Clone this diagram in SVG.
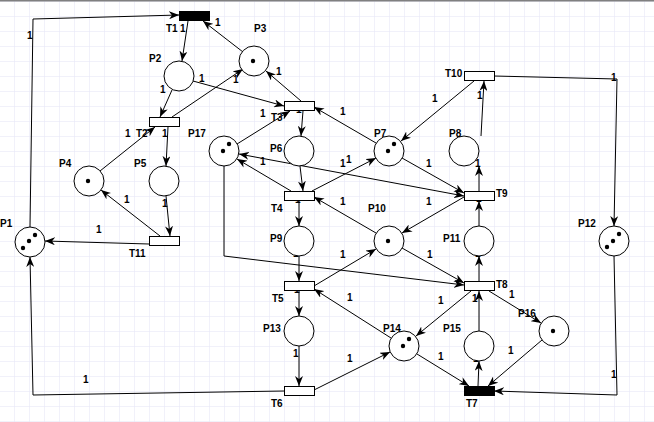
<svg xmlns="http://www.w3.org/2000/svg" width="654" height="422" viewBox="0 0 654 422">
<defs>
<pattern id="grid" x="14" y="1" width="15" height="15" patternUnits="userSpaceOnUse">
<path d="M0,0 H15 M0,0 V15" fill="none" stroke="#E4E4F6" stroke-width="1"/>
</pattern>
<marker id="a" viewBox="0 0 10 8" refX="10" refY="4" markerWidth="10" markerHeight="8" orient="auto" markerUnits="userSpaceOnUse">
<path d="M0,0 L10,4 L0,8 L3,4 Z" fill="#000"/>
</marker>
<marker id="as" viewBox="0 0 10 8" refX="10" refY="4" markerWidth="10" markerHeight="8" orient="auto-start-reverse" markerUnits="userSpaceOnUse">
<path d="M0,0 L10,4 L0,8 L3,4 Z" fill="#000"/>
</marker>
<style>
.c path{fill:none;stroke:#000;stroke-width:1;marker-end:url(#a)}
.c path.both{marker-start:url(#as)}
text{font-family:"Liberation Sans",Arial,sans-serif;font-size:10px;font-weight:bold;fill:#000}
.p{fill:#fff;stroke:#000;stroke-width:1}
.t{fill:#fff;stroke:#000;stroke-width:1}
.tb{fill:#000;stroke:#000;stroke-width:1}
.k{fill:#000}
</style>
</defs>
<rect x="0" y="0" width="654" height="422" fill="#fff"/>
<rect x="0" y="0" width="654" height="422" fill="url(#grid)"/>
<rect x="0" y="0" width="654" height="1.5" fill="#808080"/>
<g id="connectors" class="c">
<path d="M30,227 L33,19 L179,15"/>
<path d="M188,21 L182,61"/>
<path d="M243,52 L203,21"/>
<path d="M172,90 L160,117"/>
<path d="M193,81 L284,106"/>
<path d="M172,117 L243,69"/>
<path d="M301,101 L266,71"/>
<path d="M303,111 L301,136"/>
<path d="M376,143 L314,107"/>
<path d="M237,144 L290,111"/>
<path d="M168,127 L166,166"/>
<path d="M100,171 L155,127"/>
<path d="M166,196 L170,236"/>
<path d="M160,236 L101,190"/>
<path d="M149,244 L45,241"/>
<path d="M284,391 L33,395 L30,257"/>
<path d="M291,191 L237,159"/>
<path class="both" d="M239,154 L464,196"/>
<path d="M312,191 L376,158"/>
<path d="M376,233 L314,197"/>
<path d="M300,166 L303,191"/>
<path d="M299,201 L299,226"/>
<path d="M402,158 L464,193"/>
<path d="M464,197 L402,233"/>
<path d="M479,226 L479,201"/>
<path d="M479,191 L479,166"/>
<path d="M481,136 L484,81"/>
<path d="M474,81 L401,141"/>
<path d="M494,76 L617,79 L614,226"/>
<path d="M614,256 L617,395 L494,391"/>
<path d="M299,256 L299,281"/>
<path d="M299,291 L299,316"/>
<path d="M299,346 L299,386"/>
<path d="M314,286 L376,249"/>
<path d="M391,338 L314,289"/>
<path d="M314,390 L390,352"/>
<path d="M224,166 L224,256 L464,285"/>
<path d="M402,248 L464,283"/>
<path d="M479,281 L479,256"/>
<path d="M479,331 L479,291"/>
<path d="M471,291 L416,336"/>
<path d="M489,291 L541,323"/>
<path d="M417,354 L469,386"/>
<path d="M478,386 L479,361"/>
<path d="M542,340 L488,386"/>
<g id="arc-labels">
<text x="27" y="39">1</text>
<text x="180" y="32">1</text>
<text x="215" y="26">1</text>
<text x="199" y="82">1</text>
<text x="233" y="83">1</text>
<text x="276" y="75">1</text>
<text x="160" y="93">1</text>
<text x="260" y="117">1</text>
<text x="125" y="137">1</text>
<text x="162" y="137">1</text>
<text x="124" y="203">1</text>
<text x="162" y="207">1</text>
<text x="96" y="233">1</text>
<text x="83" y="383">1</text>
<text x="260" y="165">1</text>
<text x="340" y="167">1</text>
<text x="346" y="163">1</text>
<text x="340" y="115">1</text>
<text x="432" y="102">1</text>
<text x="477" y="99">1</text>
<text x="611" y="81">1</text>
<text x="426" y="167">1</text>
<text x="340" y="205">1</text>
<text x="426" y="205">1</text>
<text x="340" y="258">1</text>
<text x="427" y="258">1</text>
<text x="293" y="357">1</text>
<text x="347" y="301">1</text>
<text x="438" y="304">1</text>
<text x="509" y="298">1</text>
<text x="438" y="360">1</text>
<text x="347" y="362">1</text>
<text x="508" y="354">1</text>
<text x="611" y="378">1</text>
<text x="472" y="302">1</text>
<text x="296" y="113">1</text>
<text x="295" y="203">1</text>
<text x="294" y="293">1</text>
<text x="293" y="257">1</text>
<text x="475" y="167">1</text>
<text x="476" y="202">1</text>
<text x="475" y="257">1</text>
<text x="473" y="362">1</text>
</g>
</g>
<g id="P1"><circle class="p" cx="30" cy="242" r="15"/><circle class="k" cx="35" cy="235" r="2.2"/><circle class="k" cx="29" cy="241" r="2.2"/><circle class="k" cx="23" cy="248" r="2.2"/><text x="0" y="227">P1</text></g>
<g id="P2"><circle class="p" cx="179" cy="76" r="15"/><text x="149" y="62">P2</text></g>
<g id="P3"><circle class="p" cx="254" cy="61" r="15"/><circle class="k" cx="253" cy="61" r="2.2"/><text x="254" y="32">P3</text></g>
<g id="P4"><circle class="p" cx="89" cy="181" r="15"/><circle class="k" cx="88" cy="181" r="2.2"/><text x="59" y="167">P4</text></g>
<g id="P5"><circle class="p" cx="164" cy="181" r="15"/><text x="134" y="167">P5</text></g>
<g id="P17"><circle class="p" cx="224" cy="151" r="15"/><circle class="k" cx="229" cy="144" r="2.2"/><circle class="k" cx="223" cy="151" r="2.2"/><text x="188" y="137">P17</text></g>
<g id="P6"><circle class="p" cx="299" cy="151" r="15"/><text x="270" y="152">P6</text></g>
<g id="P9"><circle class="p" cx="299" cy="241" r="15"/><text x="270" y="242">P9</text></g>
<g id="P13"><circle class="p" cx="299" cy="331" r="15"/><text x="263" y="332">P13</text></g>
<g id="P7"><circle class="p" cx="389" cy="151" r="15"/><circle class="k" cx="394" cy="144" r="2.2"/><circle class="k" cx="388" cy="151" r="2.2"/><text x="374" y="137">P7</text></g>
<g id="P8"><circle class="p" cx="464" cy="151" r="15"/><text x="449" y="137">P8</text></g>
<g id="P10"><circle class="p" cx="389" cy="241" r="15"/><circle class="k" cx="388" cy="241" r="2.2"/><text x="368" y="212">P10</text></g>
<g id="P11"><circle class="p" cx="479" cy="241" r="15"/><text x="443" y="242">P11</text></g>
<g id="P12"><circle class="p" cx="614" cy="241" r="15"/><circle class="k" cx="619" cy="234" r="2.2"/><circle class="k" cx="613" cy="241" r="2.2"/><circle class="k" cx="607" cy="247" r="2.2"/><text x="578" y="227">P12</text></g>
<g id="P14"><circle class="p" cx="404" cy="346" r="15"/><circle class="k" cx="409" cy="339" r="2.2"/><circle class="k" cx="403" cy="346" r="2.2"/><text x="383" y="332">P14</text></g>
<g id="P15"><circle class="p" cx="479" cy="346" r="15"/><text x="443" y="332">P15</text></g>
<g id="P16"><circle class="p" cx="554" cy="331" r="15"/><circle class="k" cx="553" cy="331" r="2.2"/><text x="518" y="317">P16</text></g>
<g id="T1"><rect class="tb" x="179.5" y="11.5" width="30" height="9"/><text x="166" y="32">T1</text></g>
<g id="T2"><rect class="t" x="149.5" y="117.5" width="30" height="9"/><text x="136" y="137">T2</text></g>
<g id="T3"><rect class="t" x="284.5" y="101.5" width="30" height="9"/><text x="271" y="121">T3</text></g>
<g id="T4"><rect class="t" x="284.5" y="191.5" width="30" height="9"/><text x="271" y="212">T4</text></g>
<g id="T5"><rect class="t" x="284.5" y="281.5" width="30" height="9"/><text x="272" y="302">T5</text></g>
<g id="T6"><rect class="t" x="284.5" y="386.5" width="30" height="9"/><text x="271" y="407">T6</text></g>
<g id="T7"><rect class="tb" x="464.5" y="386.5" width="30" height="9"/><text x="466" y="407">T7</text></g>
<g id="T8"><rect class="t" x="464.5" y="281.5" width="30" height="9"/><text x="496" y="288">T8</text></g>
<g id="T9"><rect class="t" x="464.5" y="191.5" width="30" height="9"/><text x="496" y="197">T9</text></g>
<g id="T10"><rect class="t" x="464.5" y="71.5" width="30" height="9"/><text x="445" y="77">T10</text></g>
<g id="T11"><rect class="t" x="149.5" y="236.5" width="30" height="9"/><text x="129" y="257">T11</text></g>
</svg>
